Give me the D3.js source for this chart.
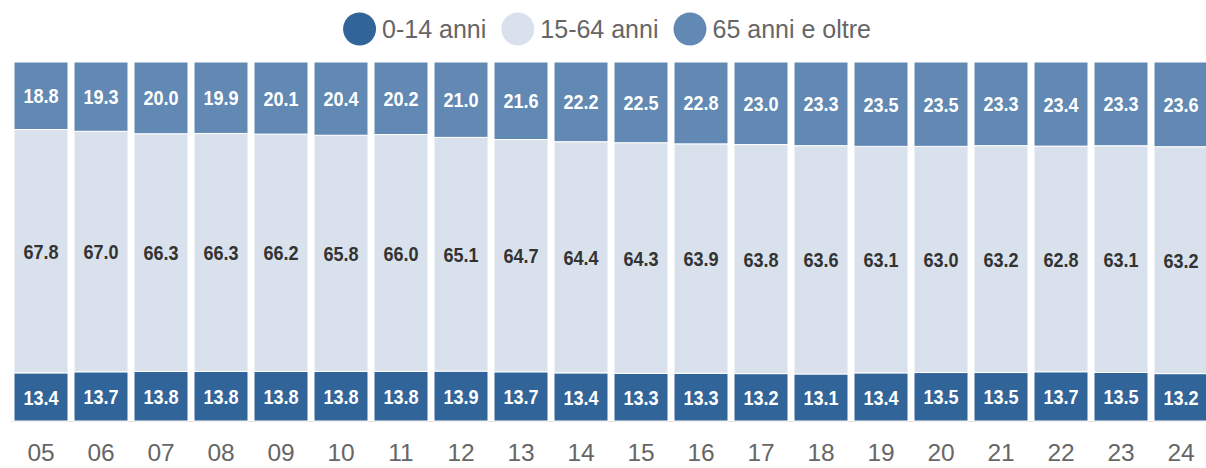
<!DOCTYPE html>
<html>
<head>
<meta charset="utf-8">
<script src="https://cdn.jsdelivr.net/npm/d3@7"></script>
<style>
  body { margin: 0; background: #fff; }
  svg { display: block; }
</style>
</head>
<body>
<script>
// anni (etichette asse x)
var years = ["05","06","07","08","09","10","11","12","13","14","15","16","17","18","19","20","21","22","23","24"];

// quote percentuali per fascia d'età
var young = [13.4,13.7,13.8,13.8,13.8,13.8,13.8,13.9,13.7,13.4,13.3,13.3,13.2,13.1,13.4,13.5,13.5,13.7,13.5,13.2];
var working = [67.8,67.0,66.3,66.3,66.2,65.8,66.0,65.1,64.7,64.4,64.3,63.9,63.8,63.6,63.1,63.0,63.2,62.8,63.1,63.2];
var old = [18.8,19.3,20.0,19.9,20.1,20.4,20.2,21.0,21.6,22.2,22.5,22.8,23.0,23.3,23.5,23.5,23.3,23.4,23.3,23.6];

var seriesNames = ["0-14 anni", "15-64 anni", "65 anni e oltre"];
var seriesKeys = ["young", "working", "old"];
var colors = ["#31659a", "#d9e2ec", "#6189b4"];
var labelColors = ["#ffffff", "#333333", "#ffffff"];

var width = 1206, height = 468;
var border = { top: 62, bottom: 47, left: 11, right: -5 };

var svg = d3.select("body").append("svg")
  .attr("width", width)
  .attr("height", height);

// tabella per lo stack
var table = years.map(function (y, i) {
  return { year: y, young: young[i], working: working[i], old: old[i] };
});

var stack = d3.stack().keys(seriesKeys).offset(d3.stackOffsetExpand);
var layers = stack(table);

var x = d3.scaleBand()
  .domain(years)
  .range([border.left, width - border.right])
  .paddingInner(0.1)
  .paddingOuter(0.05);

var y = d3.scaleLinear()
  .domain([0, 1])
  .range([height - border.bottom, border.top]);

// linea di base
svg.append("line")
  .attr("x1", border.left)
  .attr("x2", width)
  .attr("y1", y(0) + 0.5)
  .attr("y2", y(0) + 0.5)
  .attr("stroke", "#e0e0e0")
  .attr("stroke-width", 1);

var groups = svg.selectAll("g.layer")
  .data(layers)
  .enter().append("g")
  .attr("class", "layer")
  .attr("fill", function (d, i) { return colors[i]; });

groups.selectAll("rect")
  .data(function (d) { return d; })
  .enter().append("rect")
  .attr("x", function (d) { return x(d.data.year); })
  .attr("y", function (d) { return y(d[1]); })
  .attr("width", x.bandwidth())
  .attr("height", function (d) { return y(d[0]) - y(d[1]); })
  .attr("stroke", "#fff")
  .attr("stroke-width", 1);

// etichette dei valori (carattere stretto: scala orizzontale)
layers.forEach(function (layer, li) {
  svg.append("g")
    .selectAll("text")
    .data(layer)
    .enter().append("text")
    .attr("transform", function (d) {
      var cx = x(d.data.year) + x.bandwidth() / 2;
      var cy = (y(d[0]) + y(d[1])) / 2;
      return "translate(" + cx + "," + cy + ") scale(0.86,1)";
    })
    .attr("dy", "0.36em")
    .attr("text-anchor", "middle")
    .attr("fill", labelColors[li])
    .style("font-family", "'Liberation Sans', Arial, sans-serif")
    .style("font-weight", "bold")
    .style("font-size", "21px")
    .text(function (d) { return d.data[layer.key].toFixed(1); });
});

// asse x
var xAxis = d3.axisBottom(x).tickSize(0).tickPadding(0);
var gx = svg.append("g")
  .attr("transform", "translate(0," + (y(0)) + ")")
  .call(xAxis);
gx.select(".domain").remove();
gx.selectAll("text")
  .attr("y", 40)
  .attr("dy", "0")
  .attr("fill", "#666")
  .style("font-family", "'Liberation Sans', Arial, sans-serif")
  .style("font-size", "24.5px");

// legenda
var legend = svg.append("g");
var lx = 0;
seriesNames.forEach(function (name, i) {
  var item = legend.append("g").attr("transform", "translate(" + lx + ",0)");
  item.append("circle")
    .attr("cx", 16.5)
    .attr("cy", 0)
    .attr("r", 16.5)
    .attr("fill", colors[i]);
  var t = item.append("text")
    .attr("x", 39)
    .attr("y", 0)
    .attr("dy", "0.35em")
    .attr("fill", "#666")
    .style("font-family", "'Liberation Sans', Arial, sans-serif")
    .style("font-size", "25px")
    .text(name);
  lx += 39 + t.node().getComputedTextLength() + 15;
});
lx -= 15;
legend.attr("transform", "translate(" + ((width - lx) / 2 + 4) + ",29)");
</script>
</body>
</html>
